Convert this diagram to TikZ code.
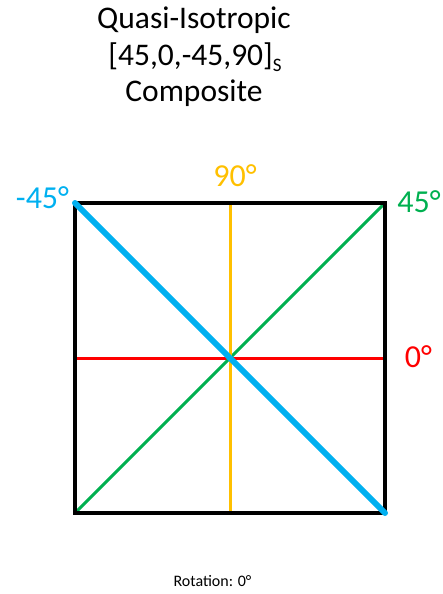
\documentclass[tikz,border=0pt]{standalone}
\usepackage{fontspec}
\setmainfont{Carlito}
\definecolor{qcyan}{HTML}{00B0F0}
\definecolor{qgreen}{HTML}{00B050}
\definecolor{qred}{HTML}{FF0000}
\definecolor{qyellow}{HTML}{FFC000}
\begin{document}
\begin{tikzpicture}[x=1pt,y=-1pt,
  ply/.style={line width=3pt},
  frame/.style={line width=3.2pt,black},
  anglbl/.style={anchor=base,inner sep=0pt,font=\fontsize{32}{36}\selectfont},
  ttl/.style={anchor=base,inner sep=0pt,font=\fontsize{31.5}{36.5}\selectfont}]
\useasboundingbox (0,0) rectangle (443,594);
% corners and midpoints
\coordinate (tl) at (75,203);
\coordinate (tr) at (385,203);
\coordinate (bl) at (75,513);
\coordinate (br) at (385,513);
\coordinate (tm) at (230,203);
\coordinate (bm) at (230,513);
\coordinate (lm) at (75,358);
\coordinate (rm) at (385,358);
% title
\node[ttl] (t1) at (194,29) {Quasi-Isotropic};
\node[ttl] (t2) at (195,65.5) {[45,0,-45,90]\raisebox{-0.18em}{\fontsize{19}{19}\selectfont S}};
\node[ttl] (t3) at (194,101) {Composite};
% plies
\draw[ply,qred] (lm) -- (rm);
\draw[ply,qgreen] (bl) -- (tr);
\draw[ply,qyellow] (bm) -- (tm);
\draw[frame] (tl) rectangle (br);
\draw[line width=6pt,qcyan,line cap=round] (tl) -- (br);
% labels
\node[anglbl,text=qcyan] (lm45) at (42.5,208) {-45°};
\node[anglbl,text=qyellow] (l90) at (235,186.5) {90°};
\node[anglbl,text=qgreen] (l45) at (419,212) {45°};
\node[anglbl,text=qred] (l0) at (418.5,367) {0°};
\node[anchor=base,inner sep=0pt,font=\fontsize{16}{18}\selectfont] (rot) at (212.5,586) {Rotation: 0°};
\end{tikzpicture}
\end{document}
